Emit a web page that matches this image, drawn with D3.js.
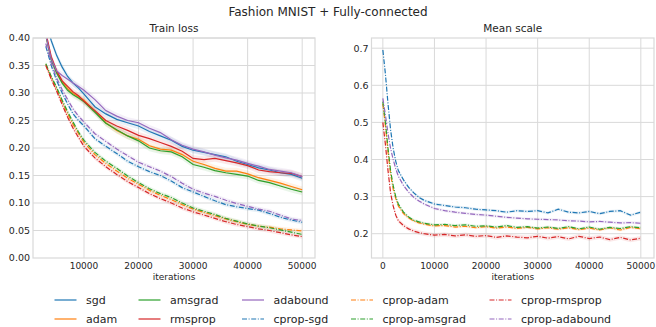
<!DOCTYPE html>
<html>
<head>
<meta charset="utf-8">
<script src="https://cdn.jsdelivr.net/npm/d3@7"></script>
<style>
  body { margin: 0; background: #fff; }
  svg text { font-family: "DejaVu Sans", sans-serif; fill: #262626; }
</style>
</head>
<body>
<svg id="chart" width="656" height="327"></svg>
<script>
// iterations at which the loss was sampled (left panel)
var lossIters = [3000, 4000, 5000, 6000, 7000, 8000, 9000, 10000, 12000, 14000, 16000, 18000, 20000,
    22000, 24000, 26000, 28000, 30000, 32000, 34000, 36000, 38000, 40000, 42000, 44000, 46000, 48000, 50000];

var lossSgd      = [0.430, 0.395, 0.368, 0.347, 0.330, 0.318, 0.309, 0.298, 0.275, 0.262, 0.252, 0.246, 0.240, 0.230, 0.222, 0.214, 0.203, 0.196, 0.192, 0.188, 0.184, 0.176, 0.170, 0.164, 0.160, 0.155, 0.152, 0.145];
var lossAdam     = [0.405, 0.362, 0.338, 0.320, 0.308, 0.299, 0.293, 0.287, 0.267, 0.246, 0.232, 0.222, 0.216, 0.204, 0.198, 0.196, 0.188, 0.176, 0.170, 0.163, 0.158, 0.158, 0.153, 0.146, 0.141, 0.136, 0.130, 0.124];
var lossAmsgrad  = [0.405, 0.360, 0.336, 0.318, 0.305, 0.297, 0.291, 0.284, 0.265, 0.245, 0.233, 0.222, 0.213, 0.200, 0.195, 0.193, 0.184, 0.170, 0.165, 0.159, 0.155, 0.152, 0.149, 0.141, 0.137, 0.131, 0.125, 0.120];
var lossRmsprop  = [0.410, 0.366, 0.340, 0.322, 0.312, 0.302, 0.295, 0.285, 0.268, 0.250, 0.240, 0.232, 0.223, 0.217, 0.210, 0.203, 0.194, 0.181, 0.179, 0.181, 0.177, 0.173, 0.168, 0.160, 0.157, 0.155, 0.154, 0.148];
var lossAdabound = [0.405, 0.362, 0.340, 0.332, 0.325, 0.318, 0.312, 0.305, 0.288, 0.268, 0.258, 0.250, 0.246, 0.236, 0.228, 0.215, 0.205, 0.198, 0.193, 0.187, 0.182, 0.178, 0.172, 0.167, 0.161, 0.158, 0.155, 0.148];
var lossCSgd      = [0.385, 0.350, 0.322, 0.300, 0.280, 0.262, 0.250, 0.240, 0.217, 0.203, 0.190, 0.176, 0.166, 0.157, 0.150, 0.140, 0.128, 0.120, 0.112, 0.104, 0.097, 0.093, 0.090, 0.087, 0.081, 0.074, 0.069, 0.065];
var lossCAdam     = [0.352, 0.328, 0.307, 0.284, 0.262, 0.243, 0.226, 0.210, 0.188, 0.172, 0.158, 0.145, 0.134, 0.123, 0.114, 0.106, 0.097, 0.089, 0.083, 0.077, 0.071, 0.066, 0.061, 0.058, 0.056, 0.053, 0.051, 0.049];
var lossCAmsgrad  = [0.353, 0.330, 0.310, 0.287, 0.266, 0.247, 0.229, 0.214, 0.192, 0.176, 0.163, 0.149, 0.137, 0.126, 0.117, 0.110, 0.100, 0.091, 0.085, 0.079, 0.072, 0.067, 0.062, 0.058, 0.055, 0.051, 0.047, 0.043];
var lossCRmsprop  = [0.350, 0.325, 0.303, 0.279, 0.256, 0.236, 0.219, 0.203, 0.182, 0.166, 0.152, 0.139, 0.128, 0.117, 0.108, 0.100, 0.091, 0.084, 0.078, 0.072, 0.066, 0.061, 0.057, 0.053, 0.050, 0.046, 0.042, 0.039];
var lossCAdabound = [0.390, 0.355, 0.327, 0.306, 0.288, 0.271, 0.258, 0.247, 0.226, 0.212, 0.198, 0.186, 0.174, 0.166, 0.158, 0.148, 0.136, 0.125, 0.118, 0.112, 0.105, 0.099, 0.094, 0.089, 0.085, 0.078, 0.071, 0.068];

// iterations for the mean scale (right panel), only the cprop runs
var scaleIters = [0, 500, 1000, 1500, 2000, 2500, 3000, 4000, 5000, 6000, 7000, 8000, 9000, 10000,
    12000, 14000, 16000, 18000, 20000, 22000, 24000, 26000, 28000, 30000, 32000, 34000, 36000, 38000,
    40000, 42000, 44000, 46000, 48000, 50000];

var scaleCSgd      = [0.695, 0.630, 0.550, 0.480, 0.430, 0.395, 0.370, 0.345, 0.325, 0.310, 0.298, 0.290, 0.285, 0.280, 0.276, 0.272, 0.270, 0.266, 0.264, 0.262, 0.258, 0.262, 0.260, 0.262, 0.256, 0.266, 0.258, 0.256, 0.260, 0.254, 0.260, 0.262, 0.250, 0.258];
var scaleCAdam     = [0.550, 0.490, 0.420, 0.360, 0.320, 0.295, 0.275, 0.254, 0.242, 0.234, 0.229, 0.226, 0.223, 0.221, 0.222, 0.218, 0.220, 0.216, 0.219, 0.215, 0.218, 0.214, 0.217, 0.213, 0.216, 0.212, 0.216, 0.211, 0.215, 0.210, 0.216, 0.210, 0.217, 0.213];
var scaleCAmsgrad  = [0.556, 0.500, 0.430, 0.370, 0.330, 0.300, 0.280, 0.258, 0.245, 0.236, 0.232, 0.228, 0.226, 0.224, 0.225, 0.222, 0.224, 0.220, 0.221, 0.218, 0.222, 0.217, 0.219, 0.215, 0.218, 0.214, 0.219, 0.213, 0.218, 0.212, 0.217, 0.214, 0.219, 0.216];
var scaleCRmsprop  = [0.500, 0.440, 0.370, 0.310, 0.275, 0.250, 0.235, 0.222, 0.213, 0.207, 0.203, 0.200, 0.198, 0.196, 0.198, 0.194, 0.197, 0.193, 0.195, 0.190, 0.194, 0.191, 0.189, 0.193, 0.188, 0.192, 0.186, 0.193, 0.187, 0.191, 0.184, 0.190, 0.183, 0.188];
var scaleCAdabound = [0.565, 0.520, 0.470, 0.430, 0.400, 0.375, 0.355, 0.330, 0.312, 0.298, 0.288, 0.280, 0.274, 0.268, 0.262, 0.258, 0.255, 0.252, 0.250, 0.247, 0.244, 0.242, 0.240, 0.239, 0.238, 0.237, 0.235, 0.234, 0.232, 0.233, 0.231, 0.229, 0.230, 0.228];

// half width of the shaded spread round each curve
var lossBand  = [0.006, 0.006, 0.006, 0.006, 0.006, 0.004, 0.004, 0.004, 0.004, 0.004];
var scaleBand = [0.004, 0.004, 0.004, 0.006, 0.004];

var methods = ["sgd", "adam", "amsgrad", "rmsprop", "adabound",
    "cprop-sgd", "cprop-adam", "cprop-amsgrad", "cprop-rmsprop", "cprop-adabound"];
var colors = ["#1f77b4", "#ff7f0e", "#2ca02c", "#d62728", "#9467bd",
    "#1f77b4", "#ff7f0e", "#2ca02c", "#d62728", "#9467bd"];
var lossData = [lossSgd, lossAdam, lossAmsgrad, lossRmsprop, lossAdabound,
    lossCSgd, lossCAdam, lossCAmsgrad, lossCRmsprop, lossCAdabound];
var scaleData = [scaleCSgd, scaleCAdam, scaleCAmsgrad, scaleCRmsprop, scaleCAdabound];

var xTicks = [0, 10000, 20000, 30000, 40000, 50000];
var lossTicks = [0, 0.05, 0.10, 0.15, 0.20, 0.25, 0.30, 0.35, 0.40];
var scaleTicks = [0.2, 0.3, 0.4, 0.5, 0.6, 0.7];

var dashDot = "5,1.6,1,1.6";
var gridColor = "#d9d9d9";

var svg = d3.select("#chart");

svg.append("text")
    .attr("x", 328).attr("y", 16)
    .attr("text-anchor", "middle")
    .style("font-size", "12px")
    .text("Fashion MNIST + Fully-connected");

function drawPanel(opt) {
    var x = d3.scaleLinear().domain(opt.xDomain).range([opt.left, opt.right]);
    var y = d3.scaleLinear().domain(opt.yDomain).range([opt.bottom, opt.top]);
    var g = svg.append("g");

    // grid
    g.selectAll(".vgrid").data(opt.xTicks.filter(function(t) { return x(t) > opt.left; }))
        .enter().append("line")
        .attr("x1", function(d) { return x(d); }).attr("x2", function(d) { return x(d); })
        .attr("y1", opt.top).attr("y2", opt.bottom)
        .attr("stroke", gridColor).attr("stroke-width", 1);
    g.selectAll(".hgrid").data(opt.yTicks.filter(function(t) { return y(t) < opt.bottom - 0.5; }))
        .enter().append("line")
        .attr("x1", opt.left).attr("x2", opt.right)
        .attr("y1", function(d) { return y(d); }).attr("y2", function(d) { return y(d); })
        .attr("stroke", gridColor).attr("stroke-width", 1);

    var clipId = "clip-" + opt.name;
    svg.append("clipPath").attr("id", clipId)
        .append("rect")
        .attr("x", opt.left).attr("y", opt.top)
        .attr("width", opt.right - opt.left).attr("height", opt.bottom - opt.top);

    var plot = g.append("g").attr("clip-path", "url(#" + clipId + ")");

    opt.series.forEach(function(s, i) {
        var pts = s.values.map(function(v, j) { return [opt.iters[j], v]; });
        var area = d3.area()
            .x(function(d) { return x(d[0]); })
            .y0(function(d) { return y(d[1] - s.band); })
            .y1(function(d) { return y(d[1] + s.band); });
        plot.append("path").datum(pts)
            .attr("d", area)
            .attr("fill", s.color)
            .attr("fill-opacity", 0.1);
    });
    opt.series.forEach(function(s) {
        var pts = s.values.map(function(v, j) { return [opt.iters[j], v]; });
        var line = d3.line()
            .x(function(d) { return x(d[0]); })
            .y(function(d) { return y(d[1]); });
        plot.append("path").datum(pts)
            .attr("d", line)
            .attr("fill", "none")
            .attr("stroke", s.color)
            .attr("stroke-width", 1.2)
            .attr("stroke-dasharray", s.dashed ? dashDot : null);
    });

    // spines
    g.append("rect")
        .attr("x", opt.left).attr("y", opt.top)
        .attr("width", opt.right - opt.left).attr("height", opt.bottom - opt.top)
        .attr("fill", "none").attr("stroke", gridColor).attr("stroke-width", 1.2);

    // tick labels
    g.selectAll(".xl").data(opt.xTicks.filter(function(t) { return x(t) >= opt.left; }))
        .enter().append("text")
        .attr("x", function(d) { return x(d); })
        .attr("y", opt.bottom + 11)
        .attr("text-anchor", "middle")
        .style("font-size", "9px")
        .text(function(d) { return d; });
    g.selectAll(".yl").data(opt.yTicks)
        .enter().append("text")
        .attr("x", opt.left - 3)
        .attr("y", function(d) { return y(d) + 3.3; })
        .attr("text-anchor", "end")
        .style("font-size", "9.5px")
        .text(function(d) { return d3.format(opt.yFormat)(d); });

    g.append("text")
        .attr("x", (opt.left + opt.right) / 2).attr("y", 32)
        .attr("text-anchor", "middle")
        .style("font-size", "10.5px")
        .text(opt.title);
    g.append("text")
        .attr("x", (opt.left + opt.right) / 2).attr("y", 280)
        .attr("text-anchor", "middle")
        .style("font-size", "9px")
        .text("iterations");
}

drawPanel({
    name: "loss", title: "Train loss",
    left: 33, right: 315, top: 38, bottom: 258,
    xDomain: [650, 52350], yDomain: [0, 0.4],
    xTicks: xTicks, yTicks: lossTicks, yFormat: ".2f",
    iters: lossIters,
    series: lossData.map(function(v, i) {
        return { values: v, color: colors[i], dashed: i >= 5, band: lossBand[i] };
    })
});

drawPanel({
    name: "scale", title: "Mean scale",
    left: 371.5, right: 654, top: 38, bottom: 258,
    xDomain: [-2200, 52550], yDomain: [0.1345, 0.7275],
    xTicks: xTicks, yTicks: scaleTicks, yFormat: ".1f",
    iters: scaleIters,
    series: scaleData.map(function(v, i) {
        return { values: v, color: colors[i + 5], dashed: true, band: scaleBand[i] };
    })
});

// legend, two rows filled column by column
var legendCols = [54.5, 138.5, 242, 351, 489.5];
var legendRows = [300, 319];
var leg = svg.append("g");
methods.forEach(function(m, i) {
    var cx = legendCols[Math.floor(i / 2)];
    var cy = legendRows[i % 2];
    leg.append("line")
        .attr("x1", cx).attr("x2", cx + 22)
        .attr("y1", cy).attr("y2", cy)
        .attr("stroke", colors[i]).attr("stroke-width", 1.2)
        .attr("stroke-dasharray", i >= 5 ? dashDot : null);
    leg.append("text")
        .attr("x", cx + 31.5).attr("y", cy + 4)
        .style("font-size", "11px")
        .text(m);
});
</script>
</body>
</html>
